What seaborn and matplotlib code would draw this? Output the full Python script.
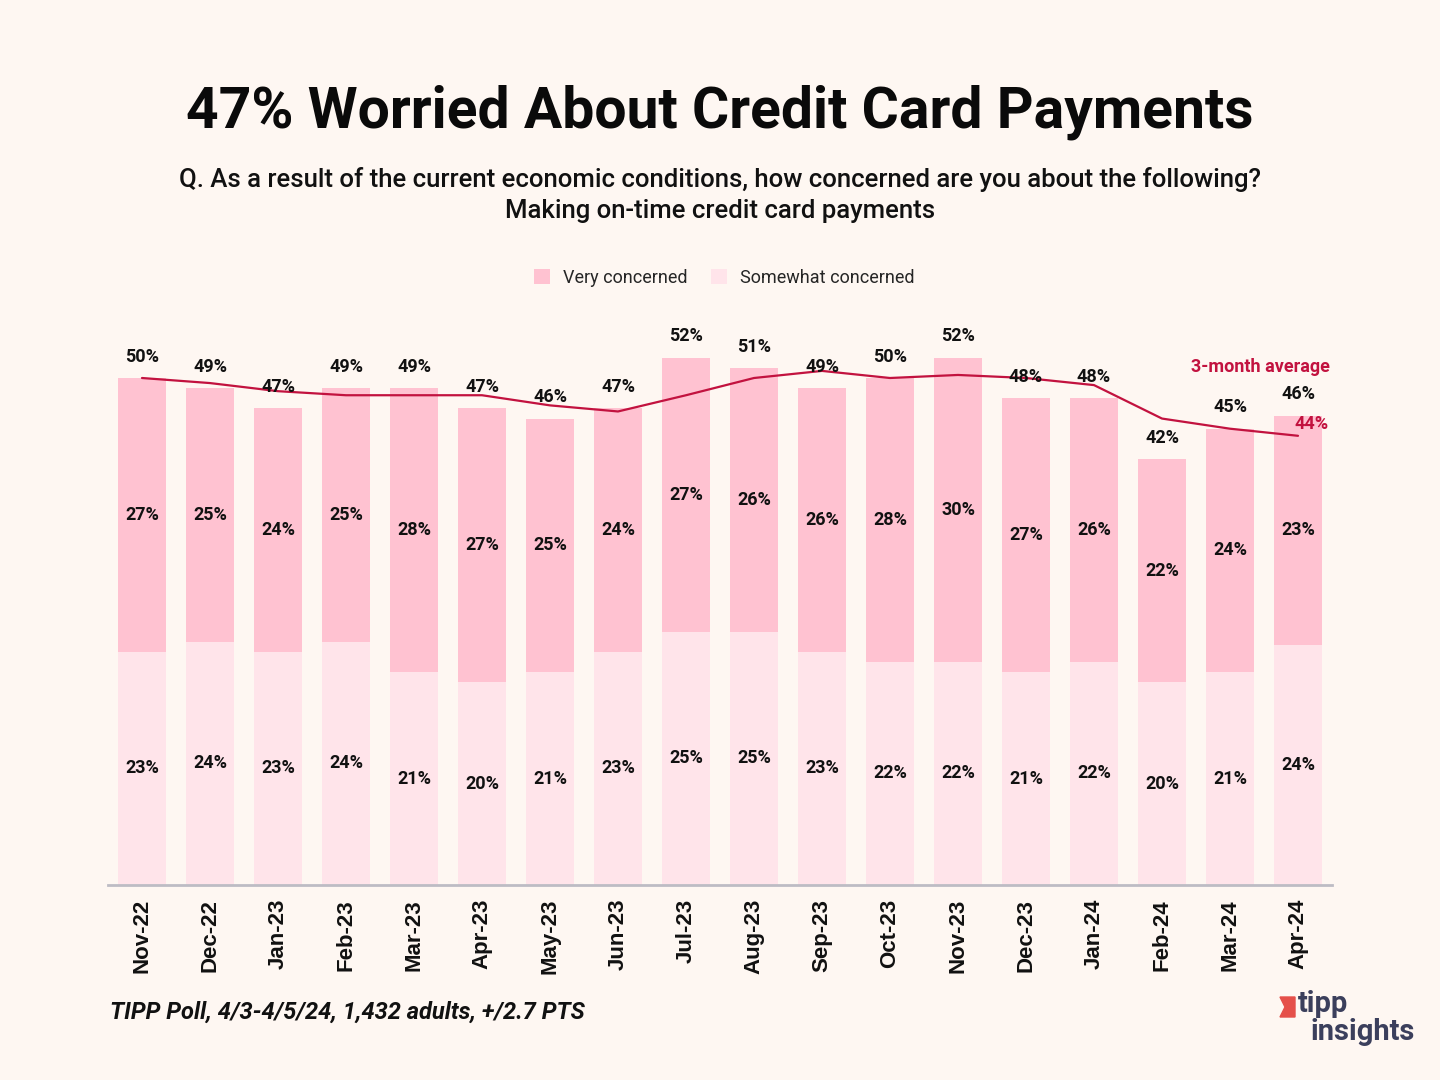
import pandas as pd
import matplotlib.pyplot as plt
import seaborn as sns
from matplotlib.patches import Polygon

# Survey values (percent)
MONTHS = ["Nov-22", "Dec-22", "Jan-23", "Feb-23", "Mar-23", "Apr-23", "May-23", "Jun-23",
          "Jul-23", "Aug-23", "Sep-23", "Oct-23", "Nov-23", "Dec-23", "Jan-24", "Feb-24",
          "Mar-24", "Apr-24"]
SOMEWHAT = [23, 24, 23, 24, 21, 20, 21, 23, 25, 25, 23, 22, 22, 21, 22, 20, 21, 23.7]
VERY = [27, 25, 24, 25, 28, 27, 25, 24, 27, 26, 26, 28, 30, 27, 26, 22, 24, 22.6]
AVG_3M = [50.0, 49.5, 48.7, 48.3, 48.3, 48.3, 47.3, 46.7, 48.3, 50.0, 50.7, 50.0, 50.3,
          50.0, 49.3, 46.0, 45.0, 44.3]

BG = "#fef7f2"
VERY_COLOR = "#ffc2d1"
SOMEWHAT_COLOR = "#ffe4ea"
LINE_COLOR = "#c2123f"
NAVY = "#3b3f5c"

sns.set_theme(style="white")
plt.rcParams.update({
    "font.family": ["Roboto", "DejaVu Sans"],
    "figure.facecolor": BG,
    "axes.facecolor": BG,
    "savefig.facecolor": BG,
})

df = pd.DataFrame({"month": MONTHS, "somewhat": SOMEWHAT, "very": VERY, "avg": AVG_3M})
df["total"] = df["somewhat"] + df["very"]

fig = plt.figure(figsize=(14.4, 10.8), dpi=100)
ax = fig.add_axes([108 / 1440, 195 / 1080, 1224 / 1440, 557.7 / 1080])

# stacked bars: full height in "very" colour, then "somewhat" on top of it
sns.barplot(data=df, x="month", y="total", color=VERY_COLOR, saturation=1,
            width=0.7, ax=ax, label="Very concerned", linewidth=0)
sns.barplot(data=df, x="month", y="somewhat", color=SOMEWHAT_COLOR, saturation=1,
            width=0.7, ax=ax, label="Somewhat concerned", linewidth=0)

# 3-month average line
sns.lineplot(data=df, x="month", y="avg", color=LINE_COLOR, linewidth=1.6,
             ax=ax, legend=False, sort=False)
ax.lines[-1].set_solid_joinstyle("round")

# labels
lbl = dict(ha="center", va="center", fontsize=13, fontweight="bold", color="#111111")
for i, row in df.iterrows():
    ax.text(i, row["somewhat"] / 2, f"{round(row['somewhat'])}%", **lbl)
    ax.text(i, row["somewhat"] + row["very"] / 2, f"{round(row['very'])}%", **lbl)
    ax.text(i, row["total"] + 2.1, f"{round(row['total'])}%", **lbl)

last = len(df) - 1
ax.text(last + 0.2, df["avg"].iloc[-1] + 1.2, f"{round(df['avg'].iloc[-1])}%",
        ha="center", va="center", fontsize=13, fontweight="bold", color=LINE_COLOR)
ax.text(last - 0.55, 51.1, "3-month average", ha="center", va="center",
        fontsize=13, fontweight="bold", color=LINE_COLOR)

ax.set_xlim(-0.5, len(df) - 0.5)
ax.set_ylim(0, 55)
ax.set_xlabel("")
ax.set_ylabel("")
ax.set_yticks([])
for side in ["top", "left", "right"]:
    ax.spines[side].set_visible(False)
ax.spines["bottom"].set_color("#bdbcc4")
ax.spines["bottom"].set_linewidth(2)
ax.tick_params(axis="x", length=0, pad=10)
plt.setp(ax.get_xticklabels(), rotation=90, fontsize=16, fontweight="bold",
         family=["Liberation Sans", "DejaVu Sans"], color="#111111")

# legend
handles, labels = ax.get_legend_handles_labels()
if ax.get_legend():
    ax.get_legend().remove()
fig.legend(handles[:2], labels[:2], loc="center", bbox_to_anchor=(724 / 1440, 1 - 278 / 1080),
           ncol=2, frameon=False, fontsize=13, handlelength=0.9, handleheight=0.9,
           handletextpad=0.7, columnspacing=1.3)

# titles
fig.text(0.5, 1 - 112 / 1080, "47% Worried About Credit Card Payments", ha="center",
         va="center", fontsize=41, fontweight="bold", color="#0a0a0a")
fig.text(0.5, 1 - 179 / 1080,
         "Q. As a result of the current economic conditions, how concerned are you about the following?",
         ha="center", va="center", fontsize=18.5, fontweight="medium", color="#111111")
fig.text(0.5, 1 - 211 / 1080, "Making on-time credit card payments", ha="center",
         va="center", fontsize=18.5, fontweight="medium", color="#111111")

# footer
fig.text(110 / 1440, 1 - 1012 / 1080, "TIPP Poll, 4/3-4/5/24, 1,432 adults, +/2.7 PTS",
         ha="left", va="center", fontsize=17, fontweight="bold", style="italic",
         color="#111111")

# logo
fig.text(1298 / 1440, 1 - 1004 / 1080, "tipp", ha="left", va="center", fontsize=21,
         fontweight="bold", color=NAVY)
fig.text(1310 / 1440, 1 - 1032 / 1080, "insights", ha="left", va="center", fontsize=21,
         fontweight="bold", color=NAVY)
flag = Polygon([(1280 / 1440, 1 - 997 / 1080), (1295 / 1440, 1 - 997 / 1080),
                (1295 / 1440, 1 - 1017 / 1080), (1280 / 1440, 1 - 1017 / 1080),
                (1285 / 1440, 1 - 1007 / 1080)], closed=True, color="#e5504a",
               transform=fig.transFigure)
fig.patches.append(flag)

fig.savefig("out.png", dpi=100)
